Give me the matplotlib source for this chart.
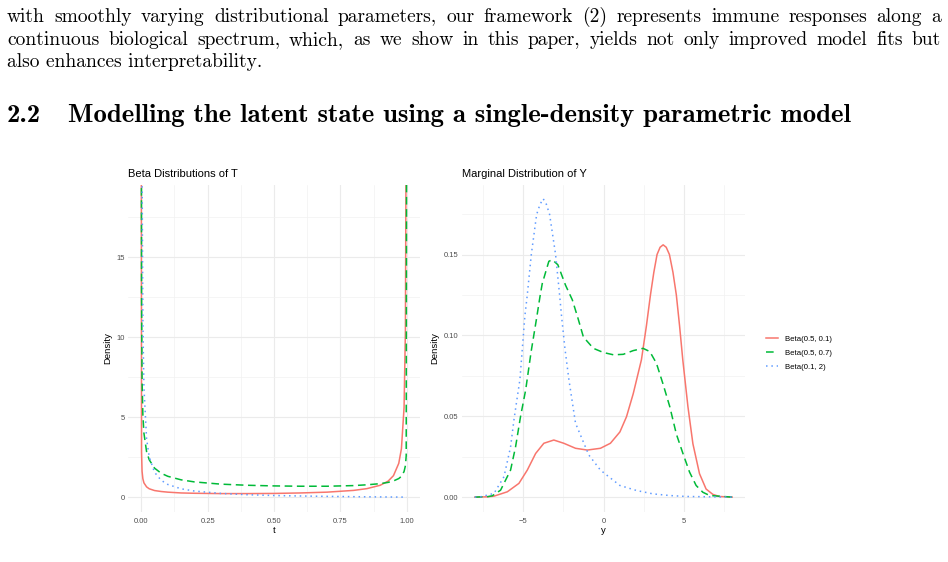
import numpy as np
import matplotlib.pyplot as plt
from matplotlib.lines import Line2D

W, H = 948, 562

# --- page text ---
line1 = "with smoothly varying distributional parameters, our framework (2) represents immune responses along a"
line2 = "continuous biological spectrum, which, as we show in this paper, yields not only improved model fits but"
line3 = "also enhances interpretability."
sec_num = "2.2"
sec_title = "Modelling the latent state using a single-density parametric model"

# --- left panel: beta densities of T ---
t = [0, 0.001, 0.003, 0.006, 0.01, 0.02, 0.03, 0.05, 0.075, 0.1, 0.15, 0.2, 0.3, 0.4,
     0.5, 0.6, 0.7, 0.8, 0.85, 0.9, 0.93, 0.95, 0.97, 0.98, 0.99, 0.995, 0.998, 1.0]
beta_05_01 = [30, 2.80, 1.61, 1.15, 0.89, 0.64, 0.52, 0.41, 0.35, 0.31, 0.26, 0.24, 0.22, 0.22,
              0.23, 0.26, 0.31, 0.42, 0.53, 0.74, 1.00, 1.34, 2.11, 3.02, 5.60, 10.4, 23.7, 30]
beta_05_07 = [30, 12.6, 7.29, 5.15, 4.00, 2.84, 2.33, 1.81, 1.49, 1.30, 1.08, 0.95, 0.81, 0.74,
              0.70, 0.68, 0.68, 0.72, 0.77, 0.84, 0.92, 1.01, 1.16, 1.30, 1.60, 1.96, 2.58, 30]
beta_01_2 = [30, 55, 20.4, 10.9, 6.87, 3.64, 2.51, 1.55, 1.05, 0.79, 0.52, 0.38, 0.23, 0.15,
             0.10, 0.070, 0.046, 0.027, 0.019, 0.012, 0.008, 0.006, 0.003, 0.002, 0.001, 0.0006, 0.0002, 0]

# --- right panel: marginal density of Y ---
y_red = [-8, -7.2, -6.81, -5.98, -5.26, -4.74, -4.22, -3.71, -3.09, -2.47, -1.74, -1.01, -0.19,
         0.43, 1.02, 1.43, 1.85, 2.36, 2.67, 2.92, 3.13, 3.33, 3.52, 3.71, 3.9, 4.1, 4.32, 4.53,
         4.73, 4.93, 5.25, 5.56, 5.97, 6.38, 6.8, 7.2, 8]
m_red = [0, 0.0002, 0.0006, 0.0033, 0.0085, 0.0167, 0.027, 0.0333, 0.0353, 0.0333, 0.0302,
         0.0291, 0.0302, 0.0333, 0.0403, 0.0497, 0.064, 0.085, 0.106, 0.125, 0.139, 0.150,
         0.1545, 0.156, 0.1545, 0.150, 0.139, 0.125, 0.106, 0.085, 0.056, 0.033, 0.0145,
         0.005, 0.0017, 0.0004, 0]
y_green = [-8, -7.2, -6.92, -6.4, -5.78, -5.47, -5.16, -4.84, -4.5, -4.16, -3.95, -3.81, -3.4,
           -3.19, -2.84, -2.36, -1.94, -1.59, -1.25, -0.63, 0, 0.62, 1.23, 1.85, 2.46, 2.88,
           3.29, 3.7, 4.12, 4.53, 4.94, 5.35, 5.76, 6.18, 6.6, 8]
m_green = [0, 0.0003, 0.0008, 0.0043, 0.0167, 0.031, 0.0498, 0.0663, 0.090, 0.1107, 0.124,
           0.132, 0.1458, 0.1468, 0.1437, 0.131, 0.122, 0.1107, 0.099, 0.092, 0.0894, 0.088,
           0.0883, 0.0906, 0.092, 0.090, 0.0828, 0.070, 0.056, 0.039, 0.027, 0.0155, 0.0072,
           0.003, 0.001, 0]
y_blue = [-8, -7.64, -6.81, -6.19, -5.78, -5.57, -5.36, -5.2, -4.89, -4.74, -4.49, -4.16,
          -3.95, -3.75, -3.55, -3.35, -2.98, -2.73, -2.61, -2.4, -2.15, -1.74, -1.22, -0.91,
          -0.19, 0.33, 1.02, 2.05, 3.08, 4.1, 5.14, 8]
m_blue = [0, 0.0002, 0.0023, 0.0126, 0.031, 0.0477, 0.062, 0.0725, 0.112, 0.125, 0.150,
          0.1747, 0.181, 0.1845, 0.181, 0.1747, 0.150, 0.125, 0.112, 0.092, 0.0725, 0.0457,
          0.0333, 0.026, 0.0167, 0.0126, 0.0072, 0.0041, 0.002, 0.001, 0.0004, 0]

labels = ["Beta(0.5, 0.1)", "Beta(0.5, 0.7)", "Beta(0.1, 2)"]
colors = ["#F8766D", "#00BA38", "#619CFF"]
styles = [dict(linestyle="-"), dict(linestyle=(0, (5, 3))), dict(linestyle=(0, (1, 2.5)))]

fig = plt.figure(figsize=(W / 100, H / 100), dpi=100)
fig.patch.set_facecolor("white")
renderer = fig.canvas.get_renderer()


def text_width(s, **kw):
    tx = fig.text(0, 0, s, **kw)
    w = tx.get_window_extent(renderer).width
    tx.remove()
    return w


def put_line(s, x0, x1, base, size, family, justify=True, **kw):
    words = s.split(" ")
    if not justify:
        fig.text(x0 / W, 1 - base / H, s, fontsize=size, family=family,
                 va="baseline", ha="left", **kw)
        return
    widths = [text_width(w, fontsize=size, family=family, **kw) for w in words]
    gap = (x1 - x0 - sum(widths)) / (len(words) - 1)
    x = x0
    for w, wd in zip(words, widths):
        fig.text(x / W, 1 - base / H, w, fontsize=size, family=family,
                 va="baseline", ha="left", **kw)
        x += wd + gap


# body size so that line 3 has its natural width
body_size = 10 * 256 / text_width(line3, fontsize=10, family="cmr10")
put_line(line1, 7, 941, 21.5, body_size, "cmr10")
put_line(line2, 7, 941, 45, body_size, "cmr10")
put_line(line3, 7, 941, 67, body_size, "cmr10", justify=False)

head_size = 10 * 782 / text_width(sec_title, fontsize=10, family="cmb10")
fig.text(7 / W, 1 - 122 / H, sec_num, fontsize=head_size, family="cmb10", va="baseline")
fig.text(68 / W, 1 - 122 / H, sec_title, fontsize=head_size, family="cmb10", va="baseline")

plt.rcParams["font.family"] = ["Liberation Sans", "DejaVu Sans"]


def style(ax):
    for s in ax.spines.values():
        s.set_visible(False)
    ax.set_axisbelow(True)
    ax.grid(which="major", color="#EBEBEB", linewidth=0.8)
    ax.grid(which="minor", color="#F2F2F2", linewidth=0.5)
    ax.tick_params(which="both", length=0, labelsize=5.5, labelcolor="#4D4D4D")
    ax.tick_params(axis="x", pad=4)
    ax.tick_params(axis="y", pad=2.5)


# left panel
ax1 = fig.add_axes([128 / W, (H - 512) / H, 292 / W, 327 / H])
for dens, c, st in zip([beta_05_01, beta_05_07, beta_01_2], colors, styles):
    ax1.plot(t, dens, color=c, linewidth=1.1, **st)
ax1.set_xlim(-0.05, 1.05)
ax1.set_ylim(-0.93, 19.5)
ax1.set_xticks([0, 0.25, 0.5, 0.75, 1.0], ["0.00", "0.25", "0.50", "0.75", "1.00"])
ax1.set_xticks([0.125, 0.375, 0.625, 0.875], minor=True)
ax1.set_yticks([0, 5, 10, 15], ["0", "5", "10", "15"])
ax1.set_yticks([2.5, 7.5, 12.5, 17.5], minor=True)
style(ax1)
ax1.set_xlabel("t", fontsize=6.8, labelpad=1)
ax1.set_ylabel("Density", fontsize=6.8, labelpad=3)
ax1.set_title("Beta Distributions of T", loc="left", fontsize=8, pad=6)

# right panel
ax2 = fig.add_axes([462 / W, (H - 512) / H, 283 / W, 327 / H])
for yy, mm, c, st in zip([y_red, y_green, y_blue], [m_red, m_green, m_blue], colors, styles):
    ax2.plot(yy, mm, color=c, linewidth=1.1, **st)
ax2.set_xlim(-8.8, 8.8)
ax2.set_ylim(-0.0092, 0.193)
ax2.set_xticks([-5, 0, 5], ["\u22125", "0", "5"])
ax2.set_xticks([-7.5, -2.5, 2.5, 7.5], minor=True)
ax2.set_yticks([0, 0.05, 0.10, 0.15], ["0.00", "0.05", "0.10", "0.15"])
ax2.set_yticks([0.025, 0.075, 0.125, 0.175], minor=True)
style(ax2)
ax2.set_xlabel("y", fontsize=6.8, labelpad=1)
ax2.set_ylabel("Density", fontsize=6.8, labelpad=3)
ax2.set_title("Marginal Distribution of Y", loc="left", fontsize=8, pad=6)

handles = [Line2D([], [], color=c, linewidth=1.1, **st) for c, st in zip(colors, styles)]
ax2.legend(handles, labels, loc="center left", bbox_to_anchor=(766 / W, 1 - 353 / H),
           bbox_transform=fig.transFigure, frameon=False, fontsize=5.6,
           handlelength=1.6, handletextpad=0.8, labelspacing=0.85,
           borderpad=0, borderaxespad=0)

fig.savefig("out.png", dpi=100, facecolor="white")
